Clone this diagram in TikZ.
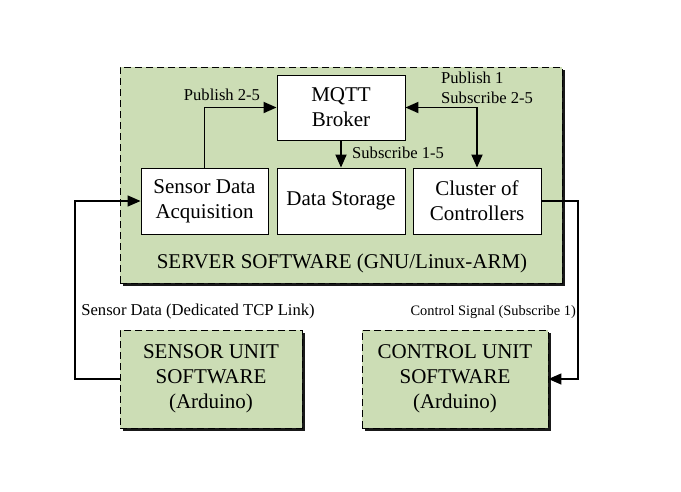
\documentclass[tikz,border=0pt]{standalone}
\usepackage{fontspec}
\setmainfont{Liberation Serif}
\usetikzlibrary{arrows.meta}
\usetikzlibrary{shadows}

\definecolor{swgreen}{RGB}{204,221,181}
\newcommand{\bigtxt}{\fontsize{21}{25}\selectfont}
\newcommand{\smalltxt}{\fontsize{16.6}{20}\selectfont}

\begin{document}
\begin{tikzpicture}
[x=1pt,y=-1pt
,grp/.style={draw,fill=swgreen,line width=0.8pt,dash pattern=on 7pt off 4pt,inner sep=0pt
  ,drop shadow={shadow xshift=3pt,shadow yshift=-3pt,fill=black,opacity=0.9}}
,blk/.style={draw,fill=white,line width=0.9pt,inner sep=0pt,align=center,font=\bigtxt
  ,minimum width=128pt,minimum height=66pt}
,unit/.style={grp,align=center,font=\bigtxt,minimum height=98pt}
,lbl/.style={font=\smalltxt,inner sep=1pt}
,tip/.style={arrows={-Triangle[length=13pt,width=11pt]}}
,ar/.style={tip,line width=1.8pt}
,lk/.style={tip,line width=1.3pt}
]
\useasboundingbox (0,0) rectangle (681,491);

% server side
\node[grp,minimum width=442pt,minimum height=216pt] (server) at (341,175) {};
\node[blk,minimum height=65pt] (broker) at (341,107.5) {MQTT\\Broker};
\node[blk,minimum width=127pt] (acq) at (204.5,201) {Sensor Data\\Acquisition};
\node[blk] (storage) at (341,201) {Data Storage};
\node[blk] (cluster) at (477,201) {Cluster of\\Controllers};
\node[font=\bigtxt] (srvname) at (342,263) {SERVER SOFTWARE (GNU/Linux-ARM)};

% field units
\node[unit,minimum width=182pt] (sunit) at (211,379) {SENSOR UNIT\\SOFTWARE\\(Arduino)};
\node[unit,minimum width=186pt] (cunit) at (455,379) {CONTROL UNIT\\SOFTWARE\\(Arduino)};
\coordinate (lcorner) at (75,379);
\coordinate (rcorner) at (578,379);

\draw[ar] (acq.north) |- (broker.west);
\draw[ar,arrows={Triangle[length=13pt,width=11pt]-Triangle[length=13pt,width=11pt]}] (broker.east) -| (cluster.north);
\draw[ar] (broker.south) -- (storage.north);
\draw[lk] (sunit.west) -- (lcorner) |- (acq.west);
\draw[lk] (cluster.east) -| (rcorner) -- (cunit.east);

\node[lbl] (lpub) at (222,95) {Publish 2-5};
\node[lbl,align=left,anchor=west] (lpubsub) at (440,88) {Publish 1\\Subscribe 2-5};
\node[lbl,anchor=west] (lsub) at (351,153) {Subscribe 1-5};
\node[lbl] (lsens) at (198,312) {Sensor Data (Dedicated TCP Link)};
\node[lbl,font=\fontsize{14.4}{18}\selectfont,anchor=east] (lctrl) at (577,312) {Control Signal (Subscribe 1)};
\end{tikzpicture}
\end{document}
